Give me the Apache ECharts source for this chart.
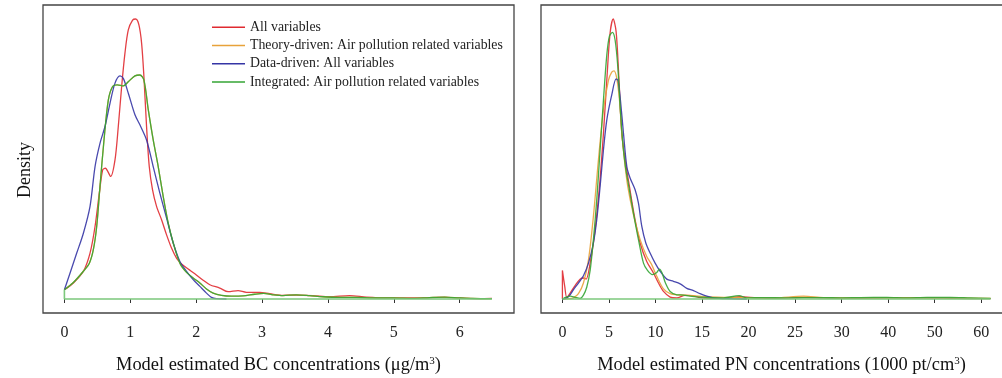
<!DOCTYPE html>
<html>
<head>
<meta charset="utf-8">
<script src="https://cdn.jsdelivr.net/npm/echarts@6/dist/echarts.min.js"></script>
<style>
  html, body { margin: 0; padding: 0; background: #fff; }
  #chart { width: 1002px; height: 378px; }
</style>
</head>
<body>
<div id="chart"></div>
<script>
// series names (legend order)
const seriesNames = [
    'All variables',
    'Theory-driven: Air pollution related variables',
    'Data-driven: All variables',
    'Integrated: Air pollution related variables'
];

// tick labels
const bcTicks = [0, 1, 2, 3, 4, 5, 6];
const pnTicks = [0, 5, 10, 15, 20, 25, 30, 40, 50, 60];

// BC densities, [concentration, relative density]
const bcAll = [
    [0, 0.033], [0.136, 0.057], [0.288, 0.099], [0.389, 0.164], [0.465, 0.259], [0.53, 0.378],
    [0.581, 0.461], [0.621, 0.467], [0.702, 0.438], [0.768, 0.497], [0.818, 0.616], [0.869, 0.759],
    [0.919, 0.878], [0.97, 0.961], [1.035, 0.996], [1.081, 1.0], [1.131, 0.979], [1.172, 0.913],
    [1.207, 0.794], [1.247, 0.616], [1.288, 0.473], [1.338, 0.39], [1.399, 0.331], [1.475, 0.283],
    [1.551, 0.229], [1.626, 0.182], [1.702, 0.146], [1.778, 0.125], [1.879, 0.107], [1.98, 0.09],
    [2.106, 0.067], [2.207, 0.051], [2.359, 0.039], [2.485, 0.026], [2.636, 0.03], [2.763, 0.024],
    [2.965, 0.024], [3.116, 0.019], [3.318, 0.013], [3.52, 0.014], [3.773, 0.012], [4.025, 0.008],
    [4.328, 0.012], [4.581, 0.007], [4.884, 0.004], [5.187, 0.004], [5.591, 0.005], [5.793, 0.006],
    [6.096, 0.002], [6.298, 0.001], [6.49, 0.002]
];
const bcIntegrated = [
    [0, 0.033], [0.136, 0.059], [0.288, 0.099], [0.379, 0.128], [0.439, 0.176], [0.49, 0.259],
    [0.54, 0.402], [0.601, 0.568], [0.667, 0.711], [0.732, 0.759], [0.803, 0.765], [0.894, 0.761],
    [0.97, 0.776], [1.071, 0.797], [1.146, 0.8], [1.207, 0.782], [1.273, 0.676], [1.348, 0.568],
    [1.424, 0.473], [1.5, 0.366], [1.576, 0.271], [1.652, 0.2], [1.753, 0.128], [1.854, 0.095],
    [1.955, 0.075], [2.056, 0.057], [2.157, 0.036], [2.258, 0.021], [2.384, 0.013], [2.535, 0.01],
    [2.712, 0.011], [2.889, 0.017], [3.025, 0.02], [3.167, 0.015], [3.318, 0.012], [3.52, 0.015],
    [3.722, 0.012], [3.924, 0.008], [4.177, 0.006], [4.429, 0.006], [4.682, 0.004], [4.985, 0.004],
    [5.288, 0.002], [5.54, 0.005], [5.768, 0.007], [6.0, 0.004], [6.197, 0.002], [6.49, 0.001]
];
// hidden under the integrated curve in the picture
const bcTheory = bcIntegrated;
const bcData = [
    [0, 0.033], [0.086, 0.093], [0.187, 0.164], [0.288, 0.235], [0.389, 0.331], [0.465, 0.473],
    [0.54, 0.556], [0.616, 0.616], [0.692, 0.699], [0.768, 0.771], [0.843, 0.797], [0.894, 0.788],
    [0.97, 0.735], [1.071, 0.658], [1.146, 0.622], [1.247, 0.568], [1.348, 0.473], [1.449, 0.378],
    [1.551, 0.289], [1.652, 0.2], [1.753, 0.134], [1.854, 0.099], [1.955, 0.069], [2.056, 0.045],
    [2.157, 0.021], [2.232, 0.006], [2.308, 0.001], [2.46, 0]
];

// PN densities, [concentration (1000 pt/cm3), relative density]
const pnAll = [
    [0, 0], [0, 0.102], [0.25, 0.045], [0.47, 0.006], [0.83, 0.021], [1.36, 0.048], [1.9, 0.071],
    [2.26, 0.075], [2.55, 0.071], [2.98, 0.128], [3.51, 0.247], [3.98, 0.402], [4.41, 0.592],
    [4.77, 0.782], [5.12, 0.949], [5.45, 1.0], [5.77, 0.955], [6.06, 0.794], [6.38, 0.592],
    [6.74, 0.497], [7.2, 0.402], [7.74, 0.295], [8.35, 0.2], [9.06, 0.134], [9.78, 0.093],
    [10.32, 0.057], [10.86, 0.027], [11.57, 0.007], [12.29, 0.004], [13.18, 0.013], [13.9, 0.012],
    [14.62, 0.006], [15.87, 0.002], [17.66, 0.004], [19.09, 0.008], [20.88, 0.004], [22.67, 0.002],
    [25.9, 0.006], [28.05, 0.004], [33.25, 0.002], [40.4, 0.004], [47.6, 0.004], [54.7, 0.002],
    [62.0, 0.001]
];
const pnTheory = [
    [0, 0], [0.65, 0.001], [1.18, 0.004], [1.72, 0.019], [2.26, 0.057], [2.8, 0.14], [3.33, 0.295],
    [3.87, 0.497], [4.41, 0.675], [4.95, 0.782], [5.3, 0.81], [5.55, 0.815], [5.84, 0.788],
    [6.13, 0.711], [6.38, 0.592], [6.66, 0.497], [7.02, 0.402], [7.63, 0.301], [8.35, 0.212],
    [9.06, 0.152], [9.6, 0.122], [10.14, 0.081], [10.86, 0.036], [11.57, 0.019], [12.29, 0.015],
    [13.18, 0.014], [14.08, 0.012], [15.51, 0.008], [17.3, 0.006], [19.45, 0.005], [22.67, 0.004],
    [25.9, 0.01], [28.05, 0.005], [33.25, 0.004], [40.4, 0.004], [47.6, 0.004], [54.7, 0.004],
    [62.0, 0.002]
];
const pnData = [
    [0, 0], [0.47, 0.004], [0.83, 0.015], [1.18, 0.033], [1.72, 0.057], [2.26, 0.083], [2.8, 0.128],
    [3.33, 0.2], [3.69, 0.283], [4.05, 0.402], [4.41, 0.533], [4.77, 0.64], [5.3, 0.729],
    [5.77, 0.786], [5.98, 0.78], [6.23, 0.711], [6.56, 0.592], [6.92, 0.473], [7.27, 0.432],
    [7.81, 0.39], [8.17, 0.342], [8.53, 0.259], [8.96, 0.2], [9.42, 0.164], [9.96, 0.128],
    [10.5, 0.099], [11.21, 0.071], [11.93, 0.063], [12.65, 0.054], [13.36, 0.038], [14.08, 0.03],
    [14.79, 0.019], [15.51, 0.01], [16.23, 0.004], [17.66, 0.001], [19.81, 0]
];
const pnIntegrated = [
    [0, 0], [0.83, 0.01], [1.36, 0.006], [1.9, 0.002], [2.26, 0.014], [2.62, 0.043], [2.98, 0.102],
    [3.33, 0.212], [3.69, 0.354], [4.05, 0.533], [4.41, 0.711], [4.77, 0.872], [5.05, 0.939],
    [5.37, 0.952], [5.66, 0.925], [5.95, 0.83], [6.2, 0.687], [6.49, 0.556], [6.77, 0.473],
    [7.13, 0.402], [7.63, 0.307], [8.17, 0.212], [8.71, 0.128], [9.14, 0.102], [9.67, 0.087],
    [10.14, 0.095], [10.42, 0.107], [10.71, 0.093], [11.07, 0.057], [11.57, 0.027], [12.29, 0.015],
    [13.0, 0.014], [13.72, 0.01], [14.79, 0.007], [15.87, 0.005], [17.3, 0.004], [18.99, 0.012],
    [19.81, 0.004], [21.6, 0.005], [24.1, 0.004], [26.26, 0.005], [28.05, 0.005], [29.84, 0.004],
    [33.97, 0.005], [39.7, 0.006], [44.0, 0.004], [48.3, 0.006], [53.3, 0.006], [57.6, 0.004],
    [62.0, 0.002]
];

const colors = ['#e02a30', '#e8a23a', '#3535a5', '#34a534'];
const serif = 'Liberation Serif';

// PN axis has uneven tick labels on evenly spaced ticks -> piecewise map
function pnToAxis(v) {
    const n = pnTicks.length;
    for (let i = 0; i < n - 1; i++) {
        if (v <= pnTicks[i + 1]) {
            return i + (v - pnTicks[i]) / (pnTicks[i + 1] - pnTicks[i]);
        }
    }
    return (n - 1) + (v - pnTicks[n - 1]) / (pnTicks[n - 1] - pnTicks[n - 2]);
}

const bcSets = [bcAll, bcTheory, bcData, bcIntegrated];
const pnSets = [pnAll, pnTheory, pnData, pnIntegrated].map(s => s.map(p => [pnToAxis(p[0]), p[1]]));

function xAxisFor(gridIndex, min, max, ticks, labels, name, namePad) {
    return {
        type: 'value', gridIndex: gridIndex, min: min, max: max,
        splitLine: { show: false },
        axisLine: { show: false },
        axisTick: { show: true, length: 4, customValues: ticks, lineStyle: { color: '#333', width: 1 } },
        axisLabel: {
            customValues: ticks, margin: 12, color: '#222', fontFamily: serif, fontSize: 16,
            formatter: v => labels[Math.round(v)]
        },
        name: name, nameLocation: 'middle', nameGap: 43,
        nameTextStyle: { fontFamily: serif, fontSize: 18.4, color: '#111', padding: namePad,
            rich: { sup: { fontFamily: serif, fontSize: 11, color: '#111', verticalAlign: 'top', padding: [0, 0, 8, 0] } } }
    };
}

const series = [];
seriesNames.forEach((name, i) => {
    series.push({ name: name, type: 'line', xAxisIndex: 0, yAxisIndex: 0, data: bcSets[i],
        showSymbol: false, smooth: 0.3, color: colors[i], lineStyle: { width: 1.3, opacity: 0.9 }, z: 2 + i });
    series.push({ name: name, type: 'line', xAxisIndex: 1, yAxisIndex: 1, data: pnSets[i],
        showSymbol: false, smooth: 0.3, color: colors[i], lineStyle: { width: 1.3, opacity: 0.9 }, z: 2 + i });
});
// closing baseline of the filled kde outlines
const bcEnd = bcIntegrated[bcIntegrated.length - 1][0];
const pnEnd = pnSets[3][pnSets[3].length - 1][0];
series.push({ type: 'line', xAxisIndex: 0, yAxisIndex: 0, silent: true, showSymbol: false,
    data: [[0, bcIntegrated[0][1]], [0, 0], [bcEnd, 0]], lineStyle: { color: '#7cc87c', width: 1.6 }, z: 10 });
series.push({ type: 'line', xAxisIndex: 1, yAxisIndex: 1, silent: true, showSymbol: false,
    data: [[0, 0], [pnEnd, 0]], lineStyle: { color: '#7cc87c', width: 1.6 }, z: 10 });

const chart = echarts.init(document.getElementById('chart'), null, { renderer: 'canvas' });
chart.setOption({
    animation: false,
    backgroundColor: '#fff',
    grid: [
        { left: 43, width: 471, top: 5, bottom: 65, outerBoundsMode: 'none',
          show: true, borderColor: '#444', borderWidth: 1.3 },
        { left: 541, width: 471, top: 5, bottom: 65, outerBoundsMode: 'none',
          show: true, borderColor: '#444', borderWidth: 1.3 }
    ],
    legend: {
        data: seriesNames, orient: 'vertical', left: 207, top: 15,
        icon: 'rect', itemWidth: 33, itemHeight: 1.5, itemGap: 4,
        textStyle: { fontFamily: serif, fontSize: 13.8, color: '#222', lineHeight: 14.3 }
    },
    xAxis: [
        xAxisFor(0, -0.325, 6.825, bcTicks.map((t, i) => i), bcTicks.map(String),
            'Model estimated BC concentrations (\u03bcg/m{sup|3})', [0, 0, 0, 0]),
        xAxisFor(1, -0.46, 9.66, pnTicks.map((t, i) => i), pnTicks.map(String),
            'Model estimated PN concentrations (1000 pt/cm{sup|3})', [0, 0, 0, 10])
    ],
    yAxis: [
        { type: 'value', gridIndex: 0, min: -0.05, max: 1.05,
          splitLine: { show: false }, axisLine: { show: false }, axisTick: { show: false }, axisLabel: { show: false },
          name: 'Density', nameLocation: 'middle', nameGap: 9,
          nameTextStyle: { fontFamily: serif, fontSize: 18, color: '#111', padding: [0, 22, 0, 0] } },
        { type: 'value', gridIndex: 1, min: -0.05, max: 1.05,
          splitLine: { show: false }, axisLine: { show: false }, axisTick: { show: false }, axisLabel: { show: false } }
    ],
    series: series
});
</script>
</body>
</html>
